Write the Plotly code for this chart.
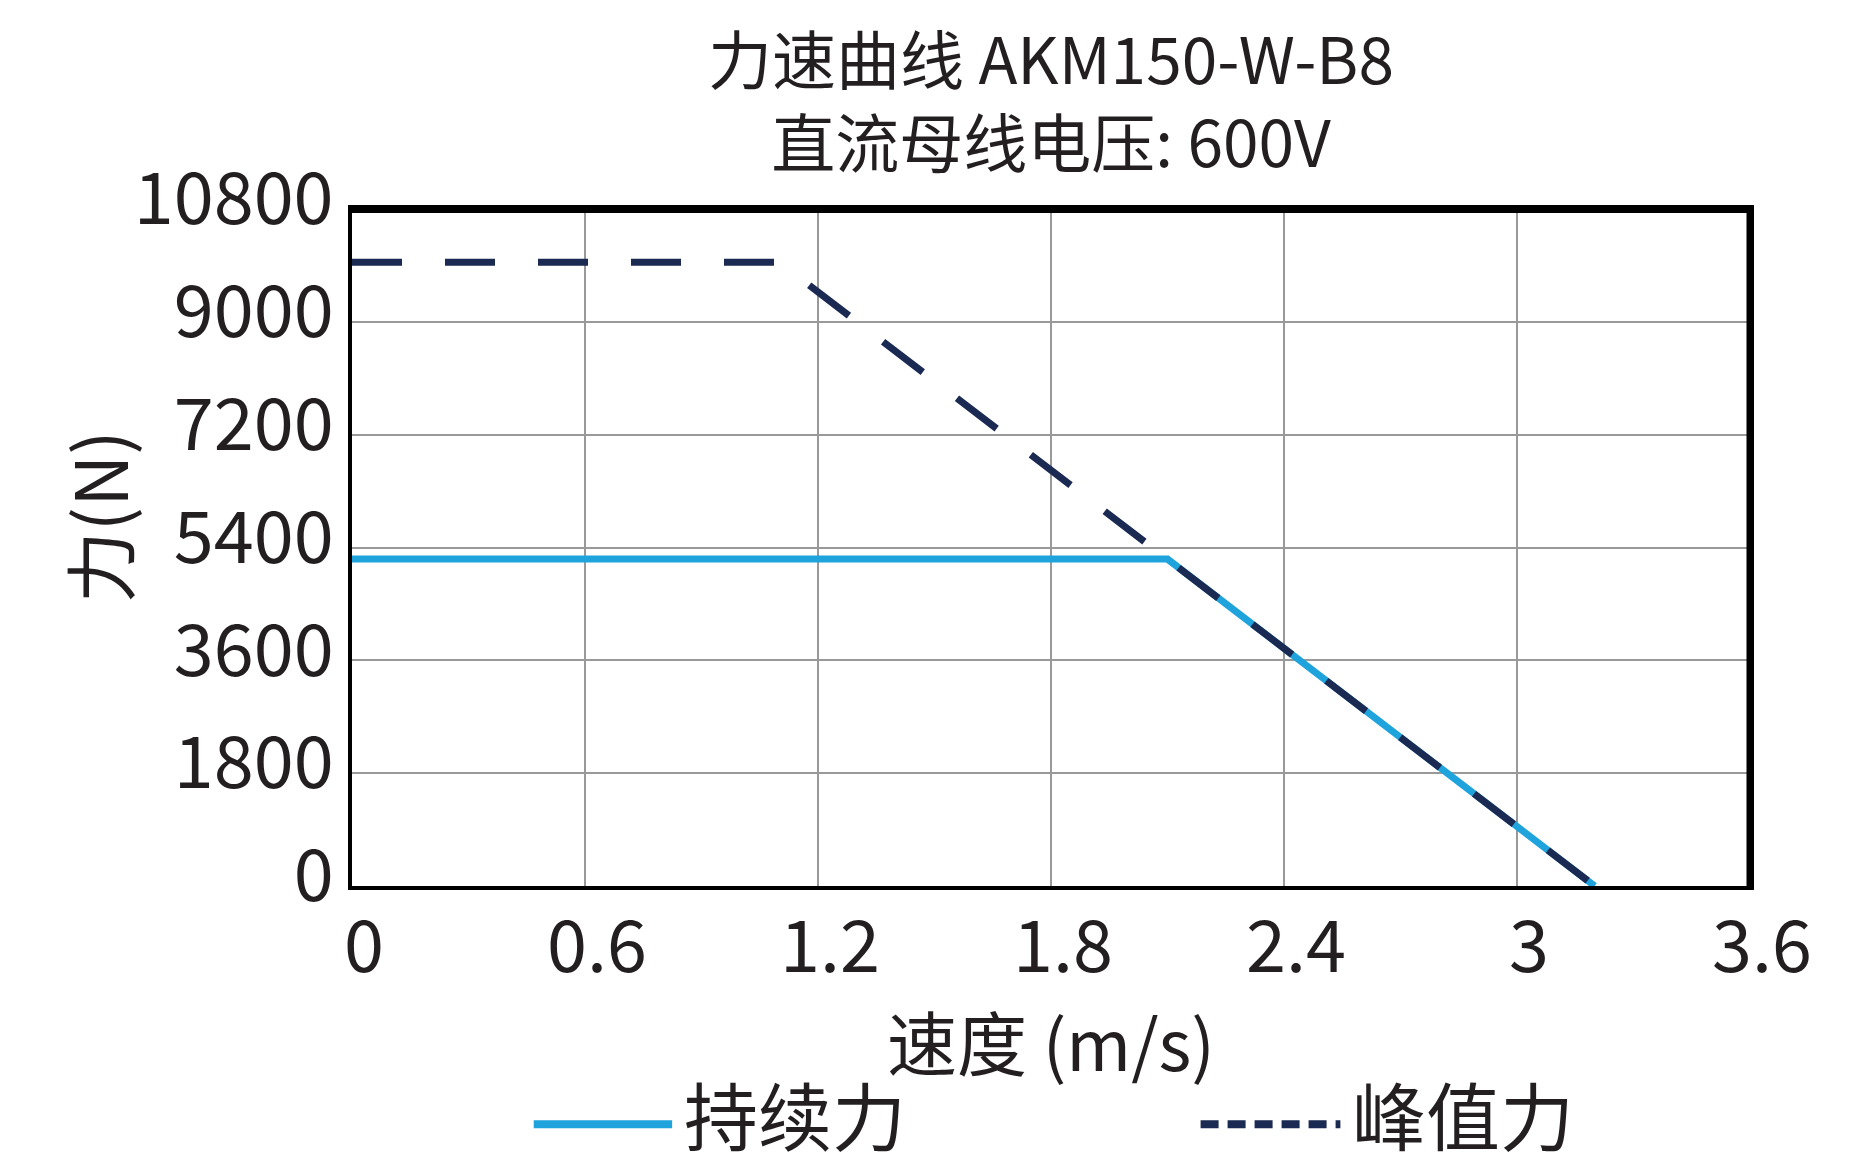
import plotly.graph_objects as go

# speed (m/s) vs force (N)
cont_speed = [0, 2.1, 3.2]
cont_force = [5215, 5215, 0]
peak_speed = [0, 1.1, 3.2]
peak_force = [9950, 9950, 0]

x_ticks = [0, 0.6, 1.2, 1.8, 2.4, 3, 3.6]
y_ticks = [0, 1800, 3600, 5400, 7200, 9000, 10800]

FONT = "Noto Sans CJK SC"
INK = "#231f20"
BLUE = "#1fa3dc"
NAVY = "#1b2a52"

fig = go.Figure()
fig.add_trace(go.Scatter(
    x=cont_speed, y=cont_force, name="持续力", mode="lines",
    line=dict(color=BLUE, width=7),
))
fig.add_trace(go.Scatter(
    x=peak_speed, y=peak_force, name="峰值力", mode="lines",
    line=dict(color=NAVY, width=7, dash="50px,43px"),
))

axis_common = dict(
    showline=True, linecolor="black", linewidth=4, mirror=True,
    showgrid=True, gridcolor="#999999", gridwidth=2,
    zeroline=False, ticks="",
    tickfont=dict(family=FONT, size=72, color=INK),
)
fig.update_xaxes(
    range=[0, 3.6], tickvals=x_ticks, ticktext=[str(v) for v in x_ticks],
    ticklabelstandoff=-4, ticklabelshift=12,
    **axis_common,
)
fig.update_yaxes(
    range=[0, 10800], tickvals=y_ticks, ticktext=[str(v) for v in y_ticks],
    ticklabelstandoff=0, ticklabelshift=-10,
    **axis_common,
)

# heavier frame on top and right
fig.add_shape(type="line", xref="paper", yref="paper", x0=0, x1=1, y0=1, y1=1,
              line=dict(color="black", width=8))
fig.add_shape(type="line", xref="paper", yref="paper", x0=1, x1=1, y0=0, y1=1,
              line=dict(color="black", width=7))

# axis titles, placed by hand so they sit close to the labels
fig.add_annotation(
    text="力(N)", textangle=-90, xref="paper", yref="paper",
    x=-0.183, y=0.545, xanchor="center", yanchor="middle", showarrow=False,
    font=dict(family=FONT, size=72, color=INK),
)
fig.add_annotation(
    text="速度 (m/s)", xref="paper", yref="paper",
    x=0.5, y=-0.228, xanchor="center", yanchor="middle", showarrow=False,
    font=dict(family=FONT, size=70, color=INK),
)

# legend with long samples, drawn in paper space
legend_items = [
    (fig.data[0], 0.130, 0.229, None),
    (fig.data[1], 0.607, 0.707, "18px,9px"),
]
for trace, x0, x1, dash in legend_items:
    fig.add_shape(type="line", xref="paper", yref="paper",
                  x0=x0, x1=x1, y0=-0.352, y1=-0.352,
                  line=dict(color=trace.line.color, width=8, dash=dash))
    fig.add_annotation(
        text=trace.name, xref="paper", yref="paper",
        x=x1 + 0.007, y=-0.335, xanchor="left", yanchor="middle", showarrow=False,
        font=dict(family=FONT, size=74, color=INK),
    )

fig.update_layout(
    width=1870, height=1166,
    margin=dict(l=344, r=128, t=201, b=288, autoexpand=False),
    plot_bgcolor="white", paper_bgcolor="white",
    font=dict(family=FONT, color=INK),
    showlegend=False,
    title=dict(
        text="力速曲线 AKM150-W-B8<br>直流母线电压: 600V",
        font=dict(family=FONT, size=64, color=INK),
        x=0.5, xref="paper", xanchor="center",
        y=1 - 76 / 1166, yref="container", yanchor="middle",
    ),
)

fig.write_html("out.html")
